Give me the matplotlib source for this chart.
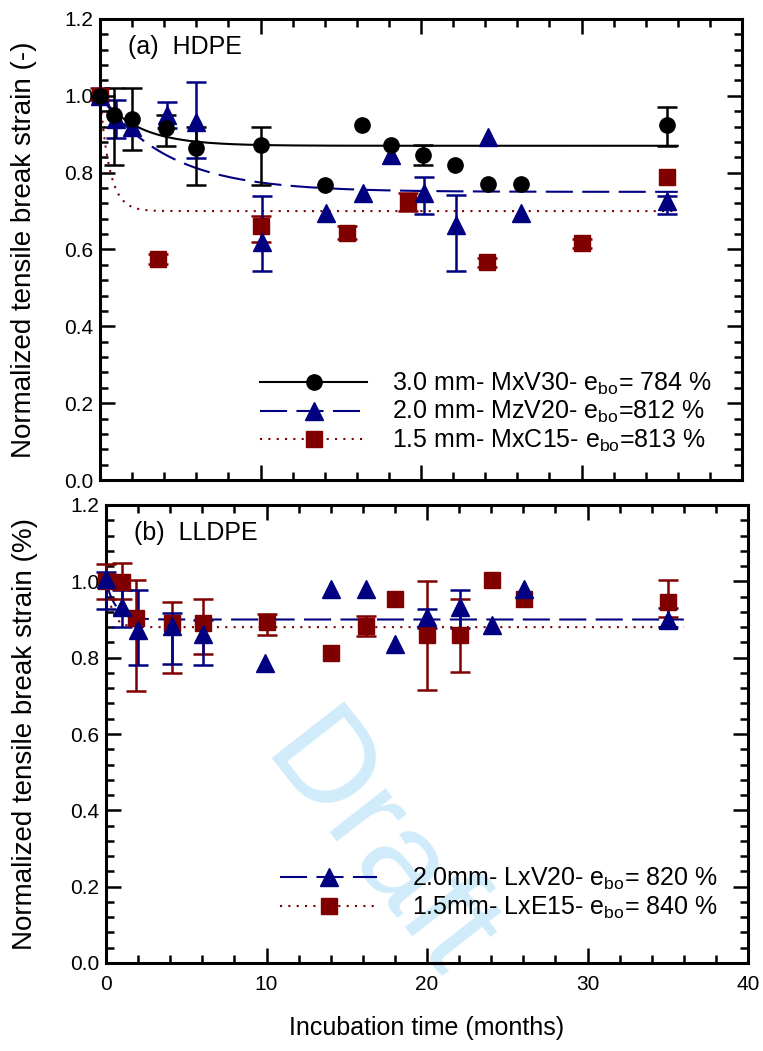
import numpy as np
import matplotlib
matplotlib.use("Agg")
import matplotlib.pyplot as plt
from matplotlib.lines import Line2D
from matplotlib.ticker import MultipleLocator, FormatStrFormatter

plt.rcParams['font.family'] = ['Liberation Sans', 'DejaVu Sans']
plt.rcParams['mathtext.fontset'] = 'custom'
plt.rcParams['mathtext.rm'] = 'Liberation Sans'

BLACK = '#000000'
NAVY = '#000080'
MAROON = '#800000'

# --- (a) HDPE data (months, normalized break strain) ---
hd30_t = [0, 0.9, 2.0, 4.1, 6.0, 10.0, 14.0, 16.3, 18.1, 20.1, 22.1, 24.2, 26.2, 35.3]
hd30_y = [1.0, 0.95, 0.94, 0.915, 0.864, 0.872, 0.768, 0.924, 0.872, 0.846, 0.82, 0.77, 0.77, 0.924]
hd30_lo = [0, 0.13, 0.08, 0.045, 0.096, 0.104, 0, 0, 0, 0.025, 0, 0, 0, 0.055]
hd30_hi = [0, 0.07, 0.08, 0.035, 0.056, 0.048, 0, 0, 0, 0.025, 0, 0, 0, 0.048]

hd20_t = [0, 1.0, 2.0, 4.2, 6.0, 10.1, 14.1, 16.4, 18.1, 20.2, 22.2, 24.2, 26.2, 35.3]
hd20_y = [1.0, 0.94, 0.92, 0.95, 0.933, 0.62, 0.694, 0.747, 0.846, 0.747, 0.664, 0.892, 0.694, 0.725]
hd20_lo = [0, 0.05, 0.0, 0.033, 0.095, 0.077, 0, 0, 0, 0.054, 0.12, 0, 0, 0.032]
hd20_hi = [0, 0.05, 0.0, 0.033, 0.104, 0.12, 0, 0, 0, 0.043, 0.077, 0, 0, 0.015]

hd15_t = [0, 3.6, 10.0, 15.4, 19.2, 24.1, 30.0, 35.3]
hd15_y = [1.0, 0.575, 0.66, 0.644, 0.723, 0.567, 0.616, 0.79]
hd15_lo = [0.01, 0.012, 0.04, 0.016, 0.024, 0.012, 0.012, 0]
hd15_hi = [0.02, 0.012, 0.026, 0.016, 0.024, 0.012, 0.012, 0]

# exponential fits: plateau, time constant (months)
hd_fits = {'30': (0.87, 2.4), '20': (0.75, 4.3), '15': (0.70, 0.6)}

# --- (b) LLDPE data ---
ll20_t = [0, 1.0, 2.0, 4.1, 6.05, 9.9, 14.0, 16.2, 18.0, 20.0, 22.05, 24.05, 26.05, 35.0]
ll20_y = [1.005, 0.933, 0.872, 0.883, 0.862, 0.785, 0.979, 0.979, 0.835, 0.907, 0.933, 0.885, 0.981, 0.899]
ll20_lo = [0.078, 0.053, 0.09, 0.10, 0.08, 0, 0, 0, 0, 0.03, 0.055, 0, 0, 0.018]
ll20_hi = [0.02, 0.045, 0.105, 0.035, 0.037, 0, 0, 0, 0, 0.02, 0.044, 0, 0, 0.03]

ll15_t = [0, 1.0, 1.9, 4.1, 6.05, 10.0, 14.0, 16.2, 18.0, 20.0, 22.05, 24.05, 26.05, 35.0]
ll15_y = [1.0, 0.999, 0.903, 0.89, 0.89, 0.894, 0.811, 0.883, 0.955, 0.859, 0.859, 1.003, 0.955, 0.947]
ll15_lo = [0.045, 0.045, 0.19, 0.13, 0.08, 0.035, 0, 0.025, 0, 0.144, 0.096, 0, 0, 0.04]
ll15_hi = [0.045, 0.05, 0.1, 0.055, 0.065, 0.02, 0, 0.025, 0, 0.143, 0.094, 0, 0, 0.056]

ll_fits = {'20': (0.90, 0.6), '15': (0.88, 0.4)}

fit_t = np.linspace(0, 36, 400)


def fit_curve(p, tau, t):
    return p + (1 - p) * np.exp(-t / tau)


def style_axes(ax, ylabel):
    ax.set_xlim(0, 40)
    ax.set_ylim(0, 1.2)
    ax.set_facecolor('none')
    ax.xaxis.set_major_locator(MultipleLocator(10))
    ax.xaxis.set_minor_locator(MultipleLocator(2))
    ax.yaxis.set_major_locator(MultipleLocator(0.2))
    ax.yaxis.set_minor_locator(MultipleLocator(0.04))
    ax.yaxis.set_major_formatter(FormatStrFormatter('%.1f'))
    ax.tick_params(which='both', direction='in', top=True, right=True, width=1.8)
    ax.tick_params(which='major', length=11, labelsize=15)
    ax.tick_params(axis='x', which='major', pad=9)
    ax.tick_params(axis='y', which='major', pad=5)
    ax.tick_params(which='minor', length=6)
    for s in ax.spines.values():
        s.set_linewidth(2.2)
    ax.set_ylabel(ylabel, fontsize=20)


def draw_series(ax, t, y, lo, hi, color, marker, ms):
    t = np.array(t); y = np.array(y); lo = np.array(lo); hi = np.array(hi)
    m = (lo + hi) > 0
    ax.errorbar(t[m], y[m], yerr=[lo[m], hi[m]], fmt='none', ecolor=color,
                elinewidth=1.8, capsize=7, capthick=1.8, clip_on=False, zorder=3)
    ax.plot(t, y, ls='none', marker=marker, ms=ms, color=color, mec=color,
            clip_on=False, zorder=4)


fig = plt.figure(figsize=(7.63, 10.51), dpi=100)
ax1 = fig.add_axes([100 / 763, 1 - 480 / 1051, 642 / 763, 461 / 1051])
ax2 = fig.add_axes([106 / 763, 1 - 963 / 1051, 642 / 763, 458 / 1051])

dash = (0, (13, 4.5))
dots = (0, (1, 3))

# (a) HDPE
ax1.plot(fit_t, fit_curve(*hd_fits['30'], fit_t), color=BLACK, lw=1.5, zorder=2)
ax1.plot(fit_t, fit_curve(*hd_fits['20'], fit_t), color=NAVY, lw=1.5, ls=dash, zorder=2)
ax1.plot(fit_t, fit_curve(*hd_fits['15'], fit_t), color=MAROON, lw=1.5, ls=dots, zorder=2)
draw_series(ax1, hd15_t, hd15_y, hd15_lo, hd15_hi, MAROON, 's', 12)
draw_series(ax1, hd20_t, hd20_y, hd20_lo, hd20_hi, NAVY, '^', 13)
draw_series(ax1, hd30_t, hd30_y, hd30_lo, hd30_hi, BLACK, 'o', 11)
style_axes(ax1, 'Normalized tensile break strain (-)')
ax1.tick_params(labelbottom=False)
ax1.text(0.043, 0.965, '(a)  HDPE', transform=ax1.transAxes, fontsize=18, va='top')
ax1.yaxis.set_label_coords(-0.098, 0.5)

h1 = [Line2D([], [], color=BLACK, lw=1.5, marker='o', ms=11),
      Line2D([], [], color=NAVY, lw=1.5, ls=dash, marker='^', ms=13),
      Line2D([], [], color=MAROON, lw=1.5, ls=dots, marker='s', ms=12)]
l1 = ['3.0 mm- MxV30- e$_\\mathregular{bo}$= 784 %',
      '2.0 mm- MzV20- e$_\\mathregular{bo}$=812 %',
      '1.5 mm- MxC15- e$_\\mathregular{bo}$=813 %']
ax1.legend(h1, l1, loc='lower left', bbox_to_anchor=(0.249, 0.056), frameon=False,
           fontsize=18, handlelength=4.3, handletextpad=1.0, labelspacing=0.1,
           borderpad=0, borderaxespad=0, numpoints=1)

# (b) LLDPE
ax2.plot(fit_t, fit_curve(*ll_fits['20'], fit_t), color=NAVY, lw=1.5, ls=dash, zorder=2)
ax2.plot(fit_t, fit_curve(*ll_fits['15'], fit_t), color=MAROON, lw=1.5, ls=dots, zorder=2)
draw_series(ax2, ll15_t, ll15_y, ll15_lo, ll15_hi, MAROON, 's', 12)
draw_series(ax2, ll20_t, ll20_y, ll20_lo, ll20_hi, NAVY, '^', 13)
style_axes(ax2, 'Normalized tensile break strain (%)')
ax2.text(0.043, 0.965, '(b)  LLDPE', transform=ax2.transAxes, fontsize=18, va='top')
ax2.yaxis.set_label_coords(-0.106, 0.5)
ax2.set_xlabel('Incubation time (months)', fontsize=18)
ax2.xaxis.set_label_coords(0.5, -0.116)

h2 = [Line2D([], [], color=NAVY, lw=1.5, ls=dash, marker='^', ms=13),
      Line2D([], [], color=MAROON, lw=1.5, ls=dots, marker='s', ms=12)]
l2 = ['2.0mm- LxV20- e$_\\mathregular{bo}$= 820 %',
      '1.5mm- LxE15- e$_\\mathregular{bo}$= 840 %']
ax2.legend(h2, l2, loc='lower left', bbox_to_anchor=(0.271, 0.092), frameon=False,
           fontsize=18, handlelength=3.9, handletextpad=1.4, labelspacing=0.1,
           borderpad=0, borderaxespad=0, numpoints=1)

# watermark
fig.text(376 / 763, 1 - 850 / 1051, 'Draft', fontsize=96, color='#d0ebfa',
         rotation=-52, rotation_mode='anchor', ha='center', va='center', zorder=-1)

fig.savefig('out.png', dpi=100)
